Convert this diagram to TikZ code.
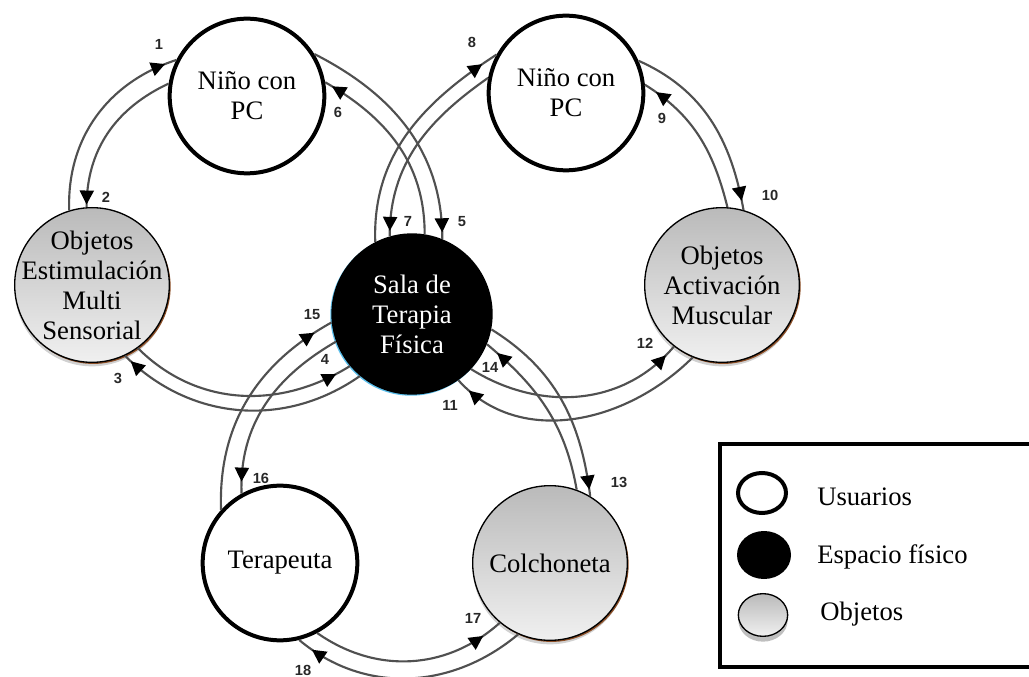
\documentclass[tikz,border=0pt]{standalone}
\usepackage{fontspec}
\setmainfont{Liberation Serif}
\newfontfamily\numfont{Liberation Sans}
\usetikzlibrary{arrows.meta,decorations.markings,shapes.geometric,shadows}

\definecolor{flowgray}{RGB}{80,80,80}
\definecolor{numgray}{RGB}{40,40,40}
\definecolor{objtop}{RGB}{186,186,186}
\definecolor{objbot}{RGB}{240,240,240}
\definecolor{rimbrown}{RGB}{140,78,38}
\definecolor{rimblue}{RGB}{90,190,235}

\tikzset{
  x=0.75pt, y=0.75pt,
  user/.style={circle, draw=black, line width=3pt, fill=white,
    minimum size=116pt, inner sep=0pt},
  space/.style={circle, fill=black, minimum size=121pt, inner sep=0pt,
    general shadow={shadow xshift=-0.8pt, shadow yshift=-0.8pt, fill=rimblue}},
  thing/.style={circle, draw=black, line width=1pt, top color=objtop,
    bottom color=objbot, minimum size=116pt, inner sep=0pt,
    general shadow={shadow xshift=0pt, shadow yshift=-3pt, fill=black, opacity=0.18},
    general shadow={shadow xshift=1pt, shadow yshift=-1.2pt, fill=rimbrown}},
  caption/.style={font=\fontsize{20}{22.5}\selectfont, align=center, inner sep=0pt},
  legtext/.style={font=\fontsize{20}{22.5}\selectfont, inner sep=0pt, anchor=base west},
  flow/.style={draw=flowgray, line width=1.6pt},
  headat/.style={postaction={decorate, decoration={markings,
    mark=at position #1 with {\arrow{Triangle[length=10.5pt,width=10.5pt,color=black]}}}}},
  num/.style={font=\numfont\bfseries\fontsize{11}{11}\selectfont, text=numgray, inner sep=0pt},
}

\begin{document}
\begin{tikzpicture}
\useasboundingbox (0,0) rectangle (1029,-677);

% --- entities ---
\node[user]  (nl)   at (247,-96)  {};
\node[user]  (nr)   at (566,-93)  {};
\node[space] (sala) at (412,-314) {};
\node[thing] (ems)  at (92,-285)  {};
\node[thing] (am)   at (722,-285) {};
\node[user]  (ter)  at (280,-563) {};
\node[thing] (col)  at (550,-563) {};

\node[caption] (nl-t)   at (nl)   {Niño con\\PC};
\node[caption] (nr-t)   at (nr)   {Niño con\\PC};
\node[caption, text=white] (sala-t) at (sala) {Sala de\\Terapia\\Física};
\node[caption] (ems-t)  at (ems)  {Objetos\\Estimulación\\Multi\\Sensorial};
\node[caption] (am-t)   at (am)   {Objetos\\Activación\\Muscular};
\node[caption] (ter-t)  at (ter)  {Terapeuta};
\node[caption] (col-t)  at (col)  {Colchoneta};

% --- flows ---
% child (left) <-> multisensory objects
\draw[flow, headat=-9pt]  (ems.107) to[out=92, in=198] (nl.153);
\draw[flow, headat=-2pt]  (nl.171)  to[out=205, in=90] (ems.94);
% child (left) <-> therapy room
\draw[flow, headat=-5pt]  (nl.32)   to[out=-27, in=90] (sala.68);
\draw[flow, headat=-6pt]  (sala.81) to[out=90, in=-30] (nl.10);
% child (right) <-> therapy room
\draw[flow, headat=-4pt]  (nr.169) to[out=215, in=90] (sala.106);
\draw[flow, headat=-13pt] (sala.117) to[out=92, in=213] (nr.151);
% child (right) <-> muscle activation objects
\draw[flow, headat=-10pt] (am.86)  to[out=104, in=-32] (nr.6);
\draw[flow, headat=-7pt]  (nr.24)  to[out=-24, in=100] (am.74);
% multisensory objects <-> therapy room
\draw[flow, headat=-6pt]  (sala.230) to[out=215, in=-45] (ems.-65);
\draw[flow, headat=-12pt] (ems.-54)  to[out=-45, in=212] (sala.220);
% therapy room <-> muscle activation objects
\draw[flow, headat=-11pt] (am.248)  to[out=225, in=-48] (sala.-55);
\draw[flow, headat=-9pt]  (sala.-43) to[out=-32, in=230] (am.232);
% therapy room <-> mattress
\draw[flow, headat=-5pt]  (sala.-11) to[out=-32, in=97] (col.59);
\draw[flow, headat=-10pt] (col.70)   to[out=100, in=-40] (sala.-22);
% therapy room <-> therapist
\draw[flow, headat=-15pt] (ter.138)  to[out=92, in=209] (sala.186);
\draw[flow, headat=-9pt]  (sala.200) to[out=210, in=92] (ter.119);
% therapist <-> mattress
\draw[flow, headat=-16pt] (ter.-62)  to[out=-35, in=222] (col.230);
\draw[flow, headat=-12pt] (col.246)  to[out=220, in=-40] (ter.-76);

% --- flow numbers ---
\node[num] (n1)  at (159,-44)  {1};
\node[num] (n2)  at (106,-197) {2};
\node[num] (n3)  at (118,-378) {3};
\node[num] (n4)  at (325,-359) {4};
\node[num] (n5)  at (462,-222) {5};
\node[num] (n6)  at (338,-112) {6};
\node[num] (n7)  at (408,-221) {7};
\node[num] (n8)  at (472,-42)  {8};
\node[num] (n9)  at (662,-118) {9};
\node[num] (n10) at (770,-195) {10};
\node[num] (n11) at (450,-405) {11};
\node[num] (n12) at (645,-343) {12};
\node[num] (n13) at (619,-482) {13};
\node[num] (n14) at (490,-367) {14};
\node[num] (n15) at (312,-315) {15};
\node[num] (n16) at (261,-478) {16};
\node[num] (n17) at (473,-618) {17};
\node[num] (n18) at (303,-670) {18};

% --- legend ---
\draw[line width=3pt] (1029,-444) -- (720,-444) -- (720,-667) -- (1029,-667);
\node[ellipse, draw=black, line width=3pt, fill=white, minimum width=36pt,
  minimum height=30pt, inner sep=0pt] (lg-user) at (762,-493) {};
\node[ellipse, fill=black, minimum width=40.5pt, minimum height=36pt,
  inner sep=0pt] (lg-space) at (764,-555) {};
\node[ellipse, draw=black, line width=1pt, top color=objtop, bottom color=objbot,
  minimum width=37pt, minimum height=32pt, inner sep=0pt,
  general shadow={shadow xshift=0pt, shadow yshift=-4pt, fill=black, opacity=0.25}]
  (lg-thing) at (763,-615) {};
\node[legtext] (lg-user-t)  at (817,-505) {Usuarios};
\node[legtext] (lg-space-t) at (817,-563) {Espacio físico};
\node[legtext] (lg-thing-t) at (820,-620) {Objetos};
\end{tikzpicture}
\end{document}
